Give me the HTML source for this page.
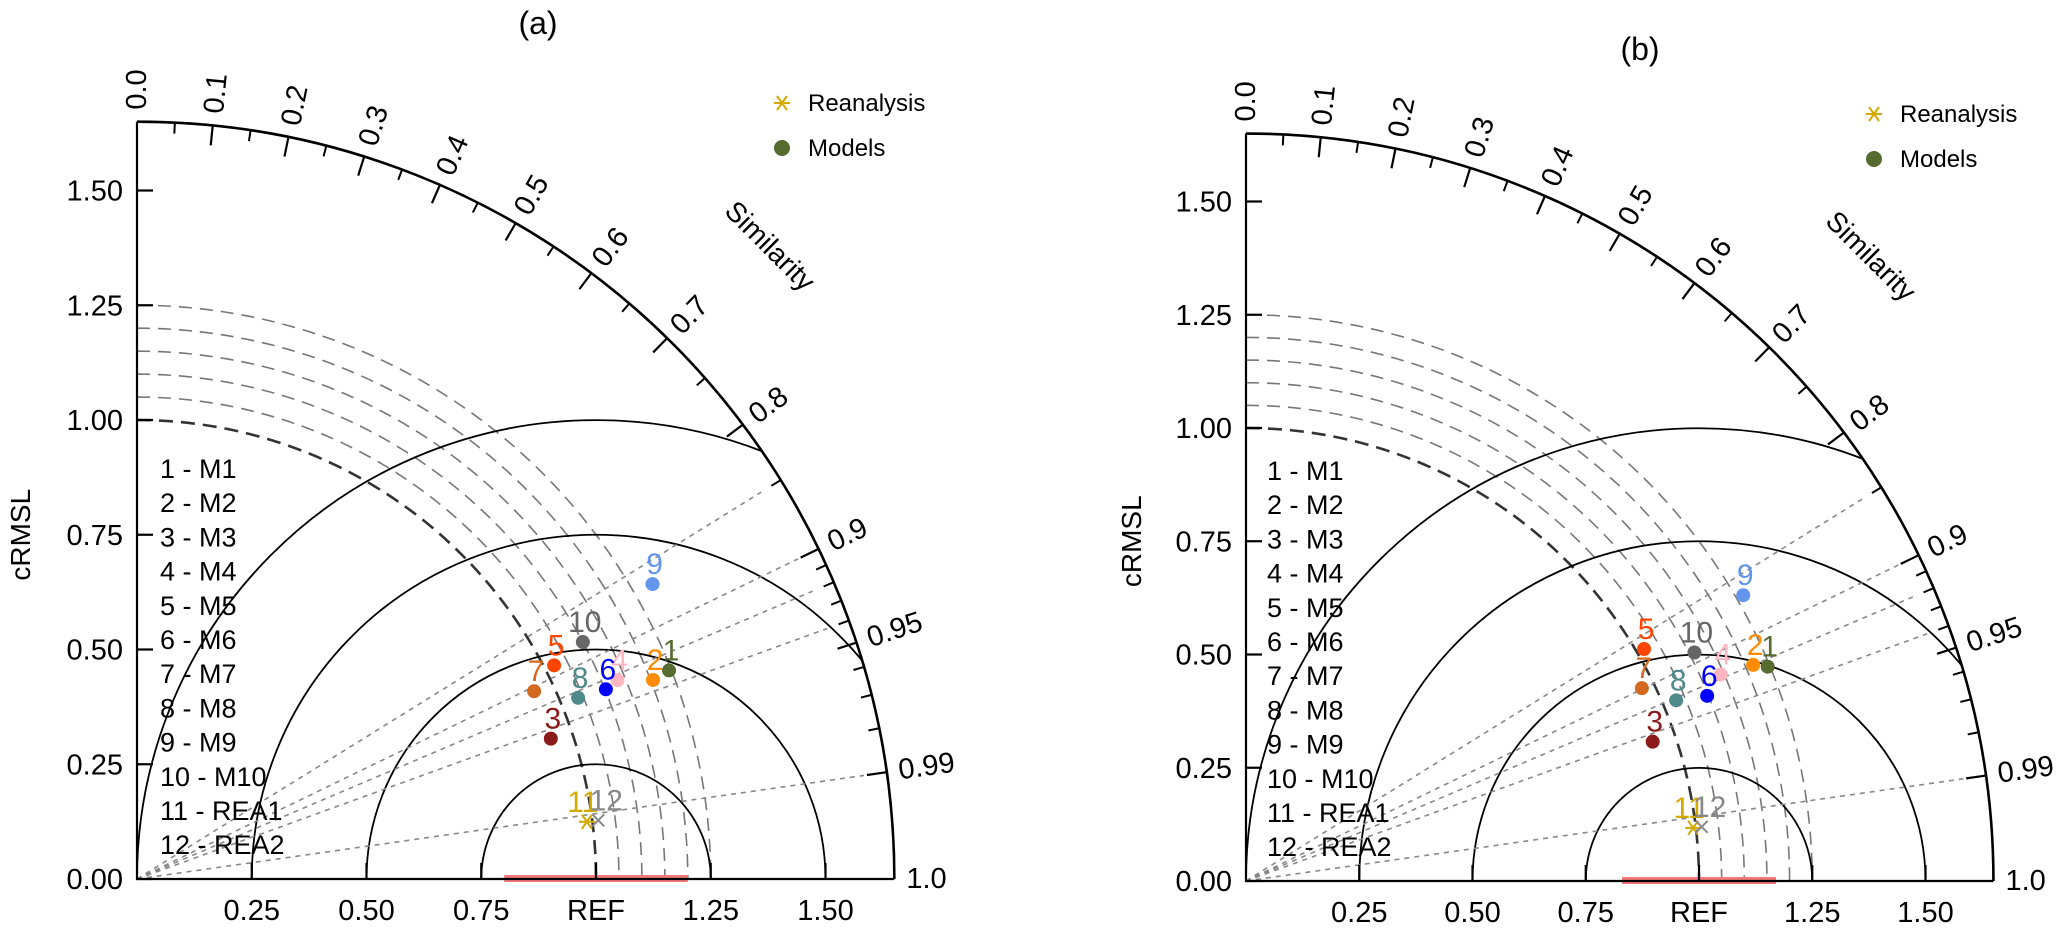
<!DOCTYPE html>
<html><head><meta charset="utf-8"><style>
html,body{margin:0;padding:0;background:#fff;}
svg{display:block;font-family:"Liberation Sans",sans-serif;}
</style></head><body>
<svg id="chart" width="2067" height="942" viewBox="0 0 2067 942" xmlns="http://www.w3.org/2000/svg"></svg>
<script>
// ---- data ----
const categories = ["M1","M2","M3","M4","M5","M6","M7","M8","M9","M10","REA1","REA2"];
const colors = ["#556b2f","#ff8c00","#8b1a1a","#ffb6c1","#ff4500","#0000ff","#d2691e","#4f8a8b","#6495ed","#666666","#d4a900","#888888"];
const stdA  = [1.245,1.205,0.952,1.133,1.021,1.102,0.957,1.039,1.294,1.100,0.988,1.013];
const corrA = [0.931,0.933,0.947,0.924,0.890,0.927,0.904,0.925,0.868,0.883,0.992,0.992];
const stdB  = [1.245,1.217,0.949,1.143,1.017,1.097,0.972,1.030,1.266,1.111,0.994,1.013];
const corrB = [0.925,0.920,0.946,0.917,0.864,0.928,0.899,0.922,0.867,0.891,0.993,0.993];
const yTicks = [0,0.25,0.5,0.75,1.0,1.25,1.5];
const yTickLabels = ["0.00","0.25","0.50","0.75","1.00","1.25","1.50"];
const xTicks = [0.25,0.5,0.75,1.0,1.25,1.5];
const xTickLabels = ["0.25","0.50","0.75","REF","1.25","1.50"];
const corrMajor = [0,0.1,0.2,0.3,0.4,0.5,0.6,0.7,0.8,0.9,0.95,0.99,1.0];
const corrMajorLabels = ["0.0","0.1","0.2","0.3","0.4","0.5","0.6","0.7","0.8","0.9","0.95","0.99","1.0"];
const corrMinor = [0.05,0.15,0.25,0.35,0.45,0.55,0.65,0.75,0.85,0.91,0.92,0.93,0.94,0.96,0.97,0.98];
const corrRays = [0.85,0.9,0.92,0.94,0.99];
const rmsArcs = [1.05,1.1,1.15,1.2,1.25];
const refArcs = [0.25,0.5,0.75,1.0];
const maxStd = 1.65;

const NS="http://www.w3.org/2000/svg";
const svg=document.getElementById('chart');
function mk(tag,attrs,parent){const e=document.createElementNS(NS,tag);for(const k in attrs)e.setAttribute(k,attrs[k]);(parent||svg).appendChild(e);return e;}

function panel(id,ox,oy,s,stds,corrs,title,tx,ty,cx,legX,legY,redLo,redHi,keyOff){
  const g=mk('g',{});
  
  
  const X=(sd,c)=>ox+sd*c*s, Y=(sd,c)=>oy-sd*Math.sqrt(Math.max(0,1-c*c))*s;
  const R=maxStd*s;
  const clipId='clip'+id;
  const cp=mk('clipPath',{id:clipId},g);
  mk('path',{d:`M${ox},${oy} L${ox+R},${oy} A${R},${R} 0 0 0 ${ox},${oy-R} Z`},cp);
  const t=mk('text',{x:tx,y:ty,'font-size':32,'text-anchor':'middle'},g);t.textContent=title;
  
  rmsArcs.forEach(r=>{const rr=r*s;
    const a=mk('path',{d:`M${ox},${oy-rr} A${rr},${rr} 0 0 1 ${ox+rr},${oy}`,fill:'none',stroke:'#777','stroke-width':1.6,'stroke-dasharray':'13,8'},g);
    });
  const a1=mk('path',{d:`M${ox},${oy-s} A${s},${s} 0 0 1 ${ox+s},${oy}`,fill:'none',stroke:'#333','stroke-width':2.6,'stroke-dasharray':'14,8'},g);
  
  const cg=mk('g',{'clip-path':`url(#${clipId})`},g);
  refArcs.forEach(r=>{const rr=r*s,rx=ox+s;
    const a=mk('path',{d:`M${rx-rr},${oy} A${rr},${rr} 0 0 1 ${rx+rr},${oy}`,fill:'none',stroke:'#000','stroke-width':1.8},cg);
    });
  corrRays.forEach(c=>{const L=1.6;
    const l=mk('line',{x1:ox,y1:oy,x2:X(L,c),y2:Y(L,c),stroke:'#888','stroke-width':1.6,'stroke-dasharray':'5,5'},g);
    });
  const rb=mk('rect',{x:ox+redLo*s,y:oy-4,width:(redHi-redLo)*s,height:7,fill:'#f47a7a'},g);
  
  const ax=mk('path',{d:`M${ox},${oy-R} L${ox},${oy} L${ox+R},${oy}`,fill:'none',stroke:'#000','stroke-width':2.2},g);
  
  const oa=mk('path',{d:`M${ox},${oy-R} A${R},${R} 0 0 1 ${ox+R},${oy}`,fill:'none',stroke:'#000','stroke-width':2.6},g);
  
  yTicks.forEach((v,i)=>{const y=oy-v*s;
    mk('line',{x1:ox,y1:y,x2:ox+16,y2:y,stroke:'#000','stroke-width':2.2},g);
    const tt=mk('text',{x:ox-14,y:y+10,'font-size':29,'text-anchor':'end'},g);tt.textContent=yTickLabels[i];
    });
  xTicks.forEach((v,i)=>{const x=ox+v*s;
    mk('line',{x1:x,y1:oy,x2:x,y2:oy-16,stroke:'#000','stroke-width':2.2},g);
    const tt=mk('text',{x:x,y:oy+41,'font-size':29,'text-anchor':'middle'},g);tt.textContent=xTickLabels[i];
    });
  const yl=mk('text',{x:0,y:0,'font-size':28,'text-anchor':'middle',transform:`translate(${cx},${oy-0.75*s}) rotate(-90)`},g);
  yl.textContent='cRMSL';
  corrMajor.forEach((c,i)=>{const th=Math.acos(c);
    const cs=Math.cos(th),sn=Math.sin(th);
    if(c>0&&c<1) mk('line',{x1:ox+R*cs,y1:oy-R*sn,x2:ox+(R-20)*cs,y2:oy-(R-20)*sn,stroke:'#000','stroke-width':2.2},g);
    const lx=ox+(R+12)*cs, ly=oy-(R+12)*sn;
    const tt=mk('text',{x:0,y:0,'font-size':29,'dominant-baseline':'central',transform:`translate(${lx},${ly}) rotate(${-th*180/Math.PI})`},g);
    tt.textContent=corrMajorLabels[i];});
  corrMinor.forEach(c=>{const th=Math.acos(c),cs=Math.cos(th),sn=Math.sin(th);
    mk('line',{x1:ox+R*cs,y1:oy-R*sn,x2:ox+(R-11)*cs,y2:oy-(R-11)*sn,stroke:'#000','stroke-width':2},g);});
  const sth=Math.PI/4, sr=1.93*s;
  const sim=mk('text',{x:0,y:0,'font-size':28,'text-anchor':'middle',transform:`translate(${ox+sr*Math.cos(sth)},${oy-sr*Math.sin(sth)}) rotate(45)`},g);
  sim.textContent='Similarity';
  categories.forEach((c,i)=>{const tt=mk('text',{x:ox+keyOff,y:oy-411+i*34.2+10,'font-size':27},g);
    tt.textContent=(i+1)+' - '+c;});
  stds.forEach((sd,i)=>{const c=corrs[i],px=X(sd,c),py=Y(sd,c);
    if(i<10){const p=mk('circle',{cx:px,cy:py,r:7,fill:colors[i]},g);
      }
    else if(i===10){const p=mk('path',{d:`M${px-8},${py} L${px+8},${py} M${px-5},${py-7} L${px+5},${py+7} M${px-5},${py+7} L${px+5},${py-7}`,stroke:colors[i],'stroke-width':2},g);
      }
    else{const p=mk('path',{d:`M${px-6},${py-6} L${px+6},${py+6} M${px-6},${py+6} L${px+6},${py-6}`,stroke:colors[i],'stroke-width':2},g);
      }
    const lb=mk('text',{x:px+(i===10?-4:i===11?8:2),y:py-10,'font-size':30,'text-anchor':'middle',fill:colors[i]},g);
    lb.textContent=String(i+1);});
  const lg=mk('g',{},g);
  const ls=mk('path',{d:`M${legX-8},${legY} L${legX+8},${legY} M${legX-5},${legY-7} L${legX+5},${legY+7} M${legX-5},${legY+7} L${legX+5},${legY-7}`,stroke:'#d4a900','stroke-width':2},lg);
  
  const l1=mk('text',{x:legX+26,y:legY+8,'font-size':24},lg);l1.textContent='Reanalysis';
  
  const lc=mk('circle',{cx:legX,cy:legY+45,r:8,fill:'#556b2f'},lg);
  
  const l2=mk('text',{x:legX+26,y:legY+53,'font-size':24},lg);l2.textContent='Models';
  
}
panel('a',137,879,459,stdA,corrA,'(a)',538,34,30,782,103,0.80,1.20,23);
panel('b',1246,881,453,stdB,corrB,'(b)',1640,60,1141,1874,114,0.83,1.17,21);
</script>
</body></html>
